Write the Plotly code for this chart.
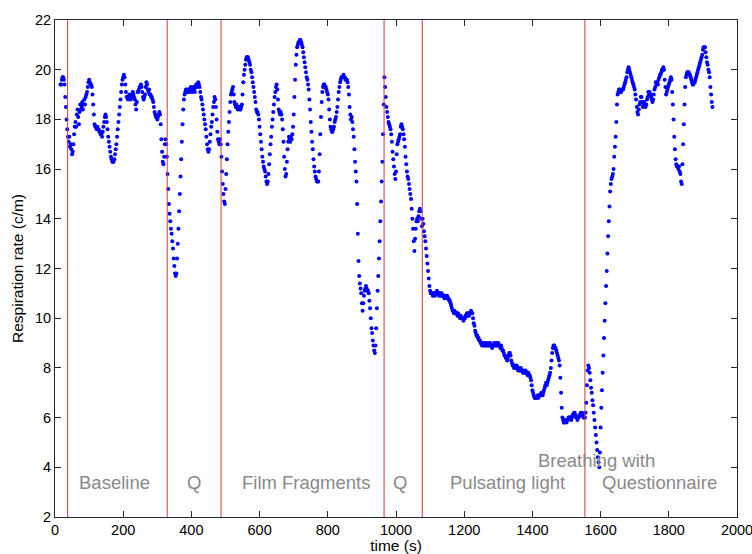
import plotly.graph_objects as go

# Respiration rate sampled every 2 s, starting at t = 16 s
t_start = 16
t_step = 2
resp_rate = [
    19.4, 19.4, 19.6, 19.7, 19.7, 19.6, 19.4, 18.9, 18.5, 18.0,
    17.6, 17.3, 17.1, 17.3, 16.9, 17.0, 16.8, 16.6, 16.7, 17.0,
    17.4, 17.7, 17.9, 17.7, 18.2, 18.4, 18.1, 17.8, 18.3, 18.6,
    18.4, 18.5, 18.7, 18.4, 18.6, 18.8, 18.6, 18.9, 19.0, 19.1,
    19.3, 19.5, 19.6, 19.5, 19.4, 19.4, 19.3, 19.0, 18.6, 18.2,
    17.8, 17.7, 17.7, 17.6, 17.7, 17.6, 17.6, 17.5, 17.5, 17.4,
    17.4, 17.3, 17.5, 17.7, 17.9, 18.1, 18.2, 18.1, 17.9, 17.6,
    17.3, 17.1, 16.9, 16.7, 16.5, 16.4, 16.3, 16.3, 16.3, 16.4,
    16.6, 16.8, 17.0, 17.3, 17.6, 17.9, 18.2, 18.5, 18.8, 19.1,
    19.4, 19.6, 19.7, 19.8, 19.7, 19.4, 19.1, 18.9, 18.9, 18.8,
    18.9, 19.0, 18.9, 18.8, 18.9, 19.0, 19.1, 19.0, 18.9, 18.8,
    18.6, 18.4, 18.7, 19.1, 19.1, 19.2, 19.3, 19.3, 19.4, 19.3,
    19.1, 18.9, 18.8, 18.9, 19.0, 19.3, 19.5, 19.4, 19.2, 19.1,
    19.2, 19.0, 19.0, 18.9, 18.9, 18.8, 18.7, 18.5, 18.3, 18.2,
    18.1, 18.1, 18.0, 18.1, 18.2, 18.3, 18.2, 17.8, 17.2, 16.7,
    16.3, 16.2, 16.5, 17.0, 17.2, 17.0, 16.5, 15.8, 15.2, 14.6,
    14.2, 13.9, 13.6, 13.4, 13.1, 12.8, 12.4, 12.1, 11.8, 11.7,
    11.8, 12.4, 13.0, 13.6, 14.3, 15.0, 15.7, 16.4, 17.1, 17.8,
    18.4, 18.8, 19.0, 19.1, 19.2, 19.1, 19.2, 19.1, 19.2, 19.1,
    19.2, 19.3, 19.2, 19.1, 19.2, 19.3, 19.2, 19.1, 19.3, 19.4,
    19.3, 19.4, 19.5, 19.4, 19.3, 19.1, 18.9, 18.8, 18.6, 18.4,
    18.2, 18.0, 17.8, 17.6, 17.3, 17.0, 16.8, 16.7, 16.8, 17.1,
    17.4, 17.7, 17.9, 18.2, 18.5, 18.7, 18.9, 18.8, 18.5, 18.0,
    17.5, 17.2, 17.1, 17.0, 17.2, 17.0, 16.5, 15.9, 15.4, 15.0,
    14.7, 14.6, 15.2, 15.8, 16.4, 17.0, 17.5, 17.9, 18.3, 18.7,
    19.0, 19.1, 19.2, 19.3, 19.0, 18.7, 18.6, 18.5, 18.6, 18.5,
    18.4, 18.5, 18.5, 18.4, 18.4, 18.5, 18.6, 19.0, 19.5, 19.8,
    20.0, 20.2, 20.4, 20.5, 20.5, 20.5, 20.4, 20.3, 20.2, 20.0,
    19.9, 19.7, 19.5, 19.3, 19.1, 18.9, 18.7, 18.4, 18.3, 18.3,
    18.2, 18.0, 17.7, 17.4, 17.1, 16.8, 16.5, 16.3, 16.1, 16.0,
    15.9, 15.7, 15.5, 15.4, 15.5, 15.8, 16.2, 16.6, 17.0, 17.3,
    17.7, 18.0, 18.3, 18.6, 18.9, 19.1, 19.3, 19.4, 19.2, 18.8,
    18.4, 18.3, 18.2, 18.3, 18.2, 18.0, 17.6, 17.1, 16.5, 16.0,
    15.7, 15.8, 16.3, 16.8, 17.1, 17.3, 17.2, 17.1, 17.3, 17.2,
    17.4, 17.7, 18.2, 18.9, 19.6, 20.2, 20.6, 20.9, 21.0, 21.1,
    21.1, 21.2, 21.2, 21.1, 21.0, 20.9, 20.7, 20.5, 20.3, 20.1,
    19.9, 19.7, 19.6, 19.4, 19.2, 18.8, 18.4, 17.9, 17.5, 17.1,
    16.8, 16.4, 16.1, 15.9, 15.7, 15.6, 15.5, 15.5, 15.5, 15.9,
    16.6, 17.4, 18.1, 18.7, 19.1, 19.3, 19.4, 19.4, 19.3, 19.3,
    19.2, 19.1, 19.0, 18.8, 18.4, 18.0, 17.7, 17.6, 17.5, 17.5,
    17.6, 17.7, 17.9, 18.0, 18.1, 18.3, 18.5, 18.8, 19.1, 19.3,
    19.5, 19.6, 19.7, 19.7, 19.7, 19.8, 19.7, 19.7, 19.6, 19.6,
    19.6, 19.5, 19.3, 19.0, 18.5, 18.2, 18.0, 18.1, 17.9, 17.6,
    17.3, 16.8, 16.3, 15.9, 15.5, 14.6, 13.4, 12.3, 11.7, 11.4,
    11.2, 11.0, 10.6, 10.3, 10.6, 10.9, 11.1, 11.2, 11.3, 11.2,
    11.1, 11.1, 11.0, 10.7, 10.4, 10.0, 9.6, 9.4, 9.1, 8.9,
    8.7, 8.6, 8.9, 9.6, 10.4, 11.1, 11.7, 12.4, 13.1, 13.9,
    14.7, 15.5, 16.3, 17.4, 18.6, 19.7, 19.3, 18.9, 18.5, 18.3,
    18.1, 17.9, 17.8, 17.7, 17.6, 17.4, 17.1, 16.7, 16.4, 16.1,
    15.8, 15.6, 15.9, 16.6, 17.0, 17.1, 17.2, 17.3, 17.4, 17.7,
    17.8, 17.7, 17.6, 17.4, 17.2, 16.9, 16.5, 16.2, 15.9, 15.7,
    15.6, 15.4, 15.2, 15.0, 14.8, 14.4, 14.0, 13.6, 13.1, 12.7,
    13.2, 13.6, 13.9, 14.0, 13.9, 14.1, 14.3, 14.4, 14.3, 14.0,
    13.7, 14.0, 13.8, 13.5, 13.3, 13.1, 12.8, 12.5, 12.2, 11.9,
    11.6, 11.3, 11.1, 11.0, 11.0, 11.0, 10.9, 11.0, 11.0, 10.9,
    11.0, 11.0, 11.1, 11.0, 11.0, 10.9, 11.0, 11.0, 10.9, 11.0,
    10.9, 10.9, 10.9, 10.8, 10.9, 10.9, 10.8, 10.9, 10.8, 10.8,
    10.7, 10.7, 10.6, 10.5, 10.4, 10.3, 10.3, 10.2, 10.3, 10.2,
    10.2, 10.2, 10.1, 10.2, 10.1, 10.1, 10.0, 10.1, 10.0, 10.0,
    10.0, 9.9, 10.0, 10.0, 10.1, 10.1, 10.2, 10.1, 10.2, 10.1,
    10.2, 10.2, 10.3, 10.2, 10.2, 10.0, 9.8, 9.7, 9.5, 9.4,
    9.3, 9.3, 9.2, 9.2, 9.1, 9.1, 9.0, 9.0, 8.9, 9.0,
    8.9, 9.0, 8.9, 8.9, 9.0, 8.9, 8.9, 9.0, 8.9, 8.9,
    9.0, 8.9, 8.9, 8.8, 8.9, 8.9, 9.0, 8.9, 8.9, 9.0,
    8.9, 8.9, 9.0, 8.9, 8.9, 8.8, 8.9, 8.8, 8.7, 8.7,
    8.6, 8.5, 8.5, 8.4, 8.4, 8.3, 8.4, 8.5, 8.6, 8.6,
    8.5, 8.3, 8.2, 8.1, 8.1, 8.0, 8.1, 8.0, 8.0, 8.1,
    8.0, 7.9, 8.0, 7.9, 7.9, 8.0, 7.9, 7.9, 7.8, 7.9,
    7.8, 7.8, 7.9, 7.8, 7.8, 7.7, 7.8, 7.7, 7.7, 7.6,
    7.5, 7.3, 7.1, 7.0, 6.9, 6.8, 6.8, 6.8, 6.8, 6.8,
    6.9, 6.8, 6.9, 6.9, 6.9, 7.0, 6.9, 6.9, 7.0, 7.1,
    7.2, 7.3, 7.4, 7.3, 7.4, 7.5, 7.6, 7.7, 7.8, 8.0,
    8.3, 8.6, 8.8, 8.9, 8.9, 8.8, 8.8, 8.7, 8.6, 8.5,
    8.4, 8.3, 8.1, 7.6, 7.0, 6.4, 6.0, 5.9, 5.8, 5.8,
    5.9, 5.9, 5.8, 5.9, 5.9, 6.0, 6.0, 6.0, 6.0, 5.9,
    6.0, 6.1, 6.1, 6.2, 6.2, 6.1, 6.0, 6.0, 5.9, 6.0,
    6.0, 6.1, 6.1, 6.2, 6.1, 6.2, 6.1, 6.0, 6.0, 6.0,
    6.2, 6.6, 7.3, 7.9, 8.1, 8.0, 7.8, 7.5, 7.2, 7.0,
    6.7, 6.5, 6.2, 5.9, 5.6, 5.3, 5.0, 4.7, 4.4, 4.2,
    4.0, 4.6, 5.6, 6.4, 7.1, 7.8, 8.5, 9.2, 9.9, 10.6,
    11.3, 11.9, 12.6, 13.3, 13.9, 14.5, 15.1, 15.4, 15.6, 15.7,
    15.8, 16.0, 16.5, 16.9, 17.3, 17.9, 18.6, 19.0, 19.1, 19.2,
    19.2, 19.1, 19.1, 19.2, 19.2, 19.2, 19.3, 19.4, 19.5, 19.6,
    19.7, 19.9, 20.0, 20.1, 20.0, 19.9, 19.8, 19.7, 19.6, 19.5,
    19.4, 19.3, 19.2, 19.0, 18.8, 18.5, 18.3, 18.2, 18.4, 18.6,
    18.7, 18.9, 18.9, 18.7, 18.5, 18.6, 18.7, 18.6, 18.5, 18.6,
    18.8, 18.9, 19.1, 19.0, 19.1, 19.0, 18.9, 18.8, 18.7, 18.8,
    19.0, 19.2, 19.3, 19.5, 19.4, 19.5, 19.4, 19.6, 19.7, 19.8,
    19.8, 19.9, 20.0, 20.0, 20.1, 20.0, 19.6, 19.3, 19.0, 19.1,
    19.2, 19.3, 19.4, 19.5, 19.6, 19.7, 19.6, 19.1, 18.6, 18.0,
    17.3, 16.8, 16.4, 16.2, 16.1, 16.1, 16.0, 16.1, 15.9, 15.8,
    15.5, 15.4, 16.2, 17.0, 17.8, 18.6, 19.3, 19.7, 19.8, 19.9,
    19.9, 19.9, 19.8, 19.8, 19.7, 19.6, 19.5, 19.4, 19.4, 19.5,
    19.5, 19.6, 19.7, 19.8, 19.9, 20.0, 20.1, 20.2, 20.3, 20.4,
    20.5, 20.6, 20.8, 20.9, 20.9, 20.9, 20.7, 20.5, 20.3, 20.2,
    20.0, 19.9, 19.7, 19.3, 19.0, 18.7, 18.5,
]
time_s = [t_start + t_step * i for i in range(len(resp_rate))]

# Phase boundaries (s) and phase labels
phase_bounds = [37, 329, 487, 965, 1077, 1554]
phase_labels = ["Baseline", "Q", "Film Fragments", "Q", "Pulsating light", "Questionnaire"]
phase_label_x = [174, 408, 738, 1013, 1326, 1773]
upper_label = "Breathing with"
upper_label_x = 1588

x_ticks = list(range(0, 2001, 200))
y_ticks = list(range(2, 23, 2))

FONT = "Arial, Liberation Sans, Helvetica, sans-serif"

fig = go.Figure()
fig.add_trace(go.Scatter(
    x=time_s, y=resp_rate, mode="markers",
    marker=dict(color="#0000ff", size=4, line=dict(width=0)),
    showlegend=False, hoverinfo="skip",
))

for xb in phase_bounds:
    fig.add_shape(type="line", xref="x", yref="paper", x0=xb, x1=xb, y0=0, y1=1,
                  line=dict(color="#d23a3a", width=1))

label_font = dict(family=FONT, size=18.5, color="#8a8a8a")
for lbl, lx in zip(phase_labels, phase_label_x):
    fig.add_annotation(x=lx, y=3.39, xref="x", yref="y", text=lbl, showarrow=False,
                       font=label_font, xanchor="center", yanchor="middle")
fig.add_annotation(x=upper_label_x, y=4.27, xref="x", yref="y", text=upper_label,
                   showarrow=False, font=label_font, xanchor="center", yanchor="middle")

axis_common = dict(
    showline=True, linecolor="#262626", linewidth=1, mirror="ticks",
    ticks="inside", ticklen=6, tickwidth=1, tickcolor="#262626",
    showgrid=False, zeroline=False, automargin=False,
    tickfont=dict(family=FONT, size=14.5, color="#000000"),
)

fig.update_xaxes(range=[0, 2000], tickvals=x_ticks,
                 ticklabeloverflow="allow",
                 title=dict(text="time (s)", font=dict(family=FONT, size=15.5, color="#000000"),
                            standoff=0),
                 **axis_common)
fig.update_yaxes(range=[2, 22], tickvals=y_ticks,
                 title=dict(text="Respiration rate (c/m)",
                            font=dict(family=FONT, size=15.5, color="#000000"), standoff=7),
                 **axis_common)

fig.update_layout(
    width=752, height=554,
    margin=dict(l=55, r=15, t=20, b=37, pad=0),
    paper_bgcolor="white", plot_bgcolor="white",
)

fig.write_html("out.html")
